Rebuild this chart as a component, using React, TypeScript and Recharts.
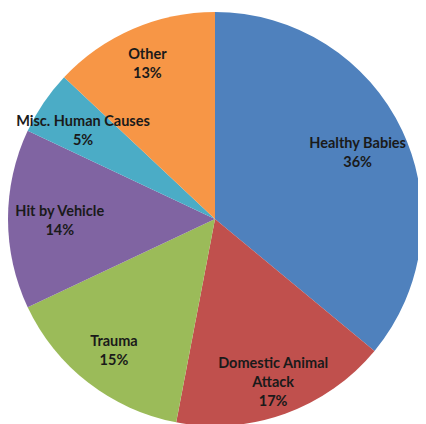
import { PieChart, Pie, Cell } from "recharts"

const causes = ["Healthy Babies", "Domestic Animal Attack", "Trauma", "Hit by Vehicle", "Misc. Human Causes", "Other"]
const shares = [36, 17, 15, 14, 5, 13]
const colors = ["#4F81BD", "#C0504D", "#9BBB59", "#8064A2", "#4BACC6", "#F79646"]

const data = causes.map((name, i) => ({ name, value: shares[i] }))

const RADIAN = Math.PI / 180

function wrap(text: string, max: number) {
	if (text.length <= max) return [text]
	const words = text.split(" ")
	const last = words.pop()
	return [words.join(" "), last]
}

// labels sit inside the slice; pull them in a bit where the slice points sideways
// so the horizontal text stays inside the pie
function renderLabel(props: any) {
	const { cx, cy, midAngle, outerRadius, name, percent } = props
	const cos = Math.cos(-midAngle * RADIAN)
	const sin = Math.sin(-midAngle * RADIAN)
	const r = outerRadius * (0.87 - 0.12 * Math.abs(cos))
	const x = cx + r * cos
	const y = cy + r * sin
	const lines = [...wrap(name, 20), `${Math.round(percent * 100)}%`]
	const lh = 19
	const top = y - ((lines.length - 1) * lh) / 2
	return (
		<text
			x={x}
			y={top}
			textAnchor="middle"
			dominantBaseline="central"
			fill="#1a1a1a"
			fontFamily="Lato, 'Open Sans', sans-serif"
			fontWeight="bold"
			fontSize={14.5}
		>
			{lines.map((l, i) => (
				<tspan key={i} x={x} y={top + i * lh}>
					{l}
				</tspan>
			))}
		</text>
	)
}

function App() {
	return (
		<PieChart
			width={410}
			height={416}
			margin={{ top: 0, right: 0, bottom: 0, left: 0 }}
			style={{ overflow: "visible" }}
		>
			<Pie
				data={data}
				dataKey="value"
				nameKey="name"
				cx={207}
				cy={211}
				outerRadius={207}
				startAngle={90}
				endAngle={-270}
				stroke="none"
				labelLine={false}
				label={renderLabel}
				isAnimationActive={false}
			>
				{data.map((d, i) => (
					<Cell key={d.name} fill={colors[i]} />
				))}
			</Pie>
		</PieChart>
	)
}

export default App
